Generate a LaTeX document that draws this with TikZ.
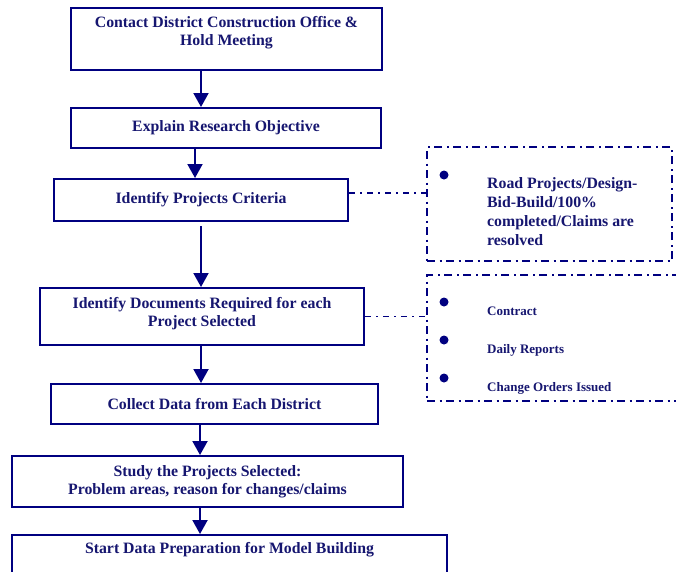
\documentclass[tikz,border=0pt]{standalone}
\usepackage{fontspec}
\setmainfont{Liberation Serif}
\usetikzlibrary{arrows.meta,calc}
\definecolor{nv}{RGB}{0,0,128}
\definecolor{nt}{RGB}{22,22,112}
\begin{document}
\begin{tikzpicture}[x=1pt,y=-1pt,
  box/.style={draw=nv, line width=2pt, inner sep=0pt, text=nt,
    font=\bfseries\fontsize{15.8}{18}\selectfont, align=center},
  txt/.style={inner sep=0pt, text=nt, font=\bfseries\fontsize{15.8}{18}\selectfont, align=center},
  arr/.style={draw=nv, line width=2pt, -{Triangle[length=14pt,width=15pt]}},
  dd/.style={draw=nv, line width=2pt, dash pattern=on 8pt off 4.5pt on 2pt off 4.5pt},
  conn/.style={draw=nv, line width=1.3pt, dash pattern=on 6pt off 5pt on 2pt off 5pt},
  bul/.style={fill=nv},
  atxt/.style={inner sep=0pt, text=nt, font=\bfseries\fontsize{15.8}{19}\selectfont, align=left},
  btxt/.style={inner sep=0pt, text=nt, font=\bfseries\fontsize{13}{15}\selectfont}]
\useasboundingbox (0,0) rectangle (676,571);
\fill[white] (0,0) rectangle (676,571);

% main boxes
\node[box, minimum width=311pt, minimum height=62pt] (b1) at (226.5,39) {};
\node[txt] (t1) at (226.5,33) {Contact District Construction Office \&\\Hold Meeting};
\node[box, minimum width=310pt, minimum height=40pt] (b2) at (226,128) {Explain Research Objective};
\node[box, minimum width=294pt, minimum height=42pt] (b3) at (201,200) {Identify Projects Criteria};
\node[box, minimum width=324pt, minimum height=57pt] (b4) at (202,316.5) {};
\node[txt] (t4) at (202,313.5) {Identify Documents Required for each\\Project Selected};
\node[box, minimum width=327pt, minimum height=40pt] (b5) at (214.5,404) {Collect Data from Each District};
\node[box, minimum width=391pt, minimum height=51pt] (b6) at (207.5,481.5) {Study the Projects Selected:\\Problem areas, reason for changes/claims};
\node[box, minimum width=435pt, minimum height=65pt] (b7) at (229.5,567.5) {};
\node[txt] (t7) at (229.5,550) {Start Data Preparation for Model Building};

% arrows
\draw[arr] ([xshift=-25.5pt]b1.south) -- ([xshift=-25.5pt]b1.south |- b2.north);
\draw[arr] ([xshift=-31pt]b2.south) -- ([xshift=-31pt]b2.south |- b3.north);
\draw[arr] ([yshift=-4pt]b3.south) -- (b3.south |- b4.north);
\draw[arr] ([xshift=-1pt]b4.south) -- ([xshift=-1pt]b4.south |- b5.north);
\draw[arr] ([xshift=-14.5pt]b5.south) -- ([xshift=-14.5pt]b5.south |- b6.north);
\draw[arr] ([xshift=-7.5pt]b6.south) -- ([xshift=-7.5pt]b6.south |- b7.north);

% dashed side boxes
\node[dd, minimum width=245pt, minimum height=114pt, inner sep=0pt] (dA) at (549.5,204) {};
\node[dd, minimum width=263pt, minimum height=126pt, inner sep=0pt] (dB) at (558.5,338) {};

\draw[conn] ([yshift=7pt]b3.east) -- ([yshift=7pt]b3.east -| dA.west);
\draw[conn] (b4.east) -- (b4.east -| dB.west);

% bullets and texts
\fill[bul] (444,175) circle (4.5pt);
\node[atxt, anchor=north west] (ta) at (487,177) {Road Projects/Design-\\Bid-Build/100\%\\completed/Claims are\\resolved};

\fill[bul] (444,302) circle (4.5pt);
\fill[bul] (444,340) circle (4.5pt);
\fill[bul] (444,378) circle (4.5pt);
\node[btxt, anchor=base west] (tb1) at (487,315) {Contract};
\node[btxt, anchor=base west] (tb2) at (487,353) {Daily Reports};
\node[btxt, anchor=base west] (tb3) at (487,391) {Change Orders Issued};
\end{tikzpicture}
\end{document}
